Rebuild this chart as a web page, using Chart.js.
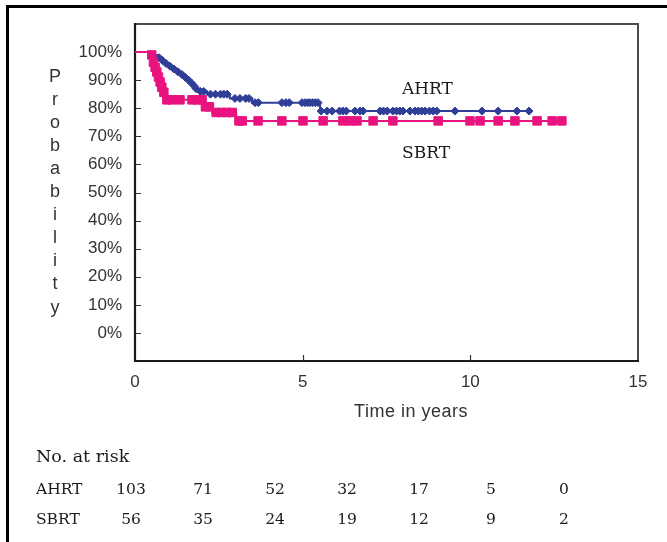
<!DOCTYPE html>
<html><head><meta charset="utf-8">
<script src="https://cdn.jsdelivr.net/npm/chart.js@4/dist/chart.umd.min.js"></script>
<style>
html,body{margin:0;padding:0;background:#fff;overflow:hidden;}
#wrap{position:relative;width:667px;height:542px;overflow:hidden;background:#fff;}
#frame{position:absolute;left:6px;top:5px;width:720px;height:620px;border:3px solid #000;box-sizing:border-box;}
#c{position:absolute;left:0;top:0;}
.t{position:absolute;white-space:nowrap;line-height:20px;}
.serif{font-family:'DejaVu Serif',serif;color:#1a1a1a;}
.sans{font-family:'Liberation Sans',Arial,sans-serif;color:#333;}
#ytitle{position:absolute;left:45px;top:64.6px;width:20px;text-align:center;font-family:'Liberation Sans',Arial,sans-serif;font-size:18px;line-height:23.1px;color:#333;}
</style></head>
<body>
<div id="wrap">
  <div id="frame"></div>
  <canvas id="c" width="667" height="542"></canvas>
  <div id="ytitle"></div>
  <div class="t sans" id="xtitle" style="left:411px;top:400.7px;font-size:18px;letter-spacing:0.5px;transform:translateX(-50%);">Time in years</div>
  <div class="t serif" id="labA" style="left:402px;top:78.3px;font-size:17px;"></div>
  <div class="t serif" id="labS" style="left:402px;top:142.3px;font-size:17px;"></div>
  <div class="t serif" style="left:36px;top:446.3px;font-size:17.5px;">No. at risk</div>
  <div id="table"></div>
</div>
<script>
// ---------- data ----------
const seriesNames = ['AHRT', 'SBRT'];
const yAxisTitle = 'Probability';
const xAxisTitle = 'Time in years';
const xTickLabels = ['0', '5', '10', '15'];
const xTickValues = [0, 5, 10, 15];
const yTickLabels = ['0%','10%','20%','30%','40%','50%','60%','70%','80%','90%','100%'];

// AHRT step curve (time in years, survival)
const ahrtTimes = [0, 0.39, 0.66, 0.78, 0.86, 0.98, 1.10, 1.22, 1.34, 1.46, 1.55, 1.64, 1.73, 1.79, 1.85, 2.15, 2.83, 3.49, 5.52, 11.75];
const ahrtSurv  = [1.00, 0.99, 0.98, 0.97, 0.96, 0.95, 0.94, 0.93, 0.92, 0.91, 0.90, 0.89, 0.88, 0.87, 0.86, 0.85, 0.835, 0.82, 0.79, 0.79];
// AHRT censor marks
const ahrtCensorTimes = [0.72, 0.82, 0.92, 1.04, 1.16, 1.28, 1.40, 1.50, 1.60, 1.68, 1.76, 1.82, 1.95, 2.05,
  2.25, 2.40, 2.55, 2.65, 2.75, 2.98, 3.13, 3.30, 3.40,
  3.58, 3.68, 4.38, 4.50, 4.60, 4.98, 5.07, 5.15, 5.22, 5.30, 5.38, 5.46,
  5.55, 5.73, 5.88, 6.10, 6.20, 6.30, 6.56, 6.71, 6.80, 7.31, 7.41, 7.52, 7.69, 7.80, 7.90, 7.99, 8.20, 8.35, 8.45, 8.55, 8.65, 8.78, 8.89, 9.00, 9.54, 10.35, 10.83, 11.39, 11.75];
const ahrtCensorSurv = [0.98, 0.97, 0.96, 0.95, 0.94, 0.93, 0.92, 0.91, 0.90, 0.89, 0.88, 0.87, 0.86, 0.86,
  0.85, 0.85, 0.85, 0.85, 0.85, 0.835, 0.835, 0.835, 0.835,
  0.82, 0.82, 0.82, 0.82, 0.82, 0.82, 0.82, 0.82, 0.82, 0.82, 0.82, 0.82,
  0.79, 0.79, 0.79, 0.79, 0.79, 0.79, 0.79, 0.79, 0.79, 0.79, 0.79, 0.79, 0.79, 0.79, 0.79, 0.79, 0.79, 0.79, 0.79, 0.79, 0.79, 0.79, 0.79, 0.79, 0.79, 0.79, 0.79, 0.79, 0.79];

// SBRT step curve
const sbrtTimes = [0, 0.50, 0.54, 0.58, 0.63, 0.68, 0.73, 0.78, 0.84, 0.90, 2.05, 2.30, 3.02, 12.73];
const sbrtSurv  = [1.00, 0.982, 0.964, 0.946, 0.929, 0.911, 0.893, 0.875, 0.857, 0.83, 0.805, 0.785, 0.755, 0.755];
// SBRT censor marks
const sbrtCensorTimes = [0.50, 0.55, 0.60, 0.65, 0.70, 0.75, 0.80, 0.86, 0.95, 1.10, 1.34, 1.70, 1.85, 2.00,
  2.10, 2.22, 2.42, 2.58, 2.74, 2.90, 3.10, 3.20, 3.67, 4.38, 5.01, 5.61, 6.20, 6.41, 6.62, 7.10, 7.69, 9.04, 9.99, 10.29, 10.83, 11.33, 11.99, 12.44, 12.73];
const sbrtCensorSurv = [0.99, 0.964, 0.946, 0.929, 0.911, 0.893, 0.875, 0.857, 0.83, 0.83, 0.83, 0.83, 0.83, 0.83,
  0.805, 0.805, 0.785, 0.785, 0.785, 0.785, 0.755, 0.755, 0.755, 0.755, 0.755, 0.755, 0.755, 0.755, 0.755, 0.755, 0.755, 0.755, 0.755, 0.755, 0.755, 0.755, 0.755, 0.755, 0.755];

// number at risk
const riskLabel = 'No. at risk';
const riskAHRT = [103, 71, 52, 32, 17, 5, 0];
const riskSBRT = [56, 35, 24, 19, 12, 9, 2];

// ---------- helpers ----------
const BLUE = '#2f3f98';
const PINK = '#e9137f';
const zip = (xs, ys) => xs.map((x, i) => ({x, y: ys[i]}));

// text overlays
document.getElementById('ytitle').innerHTML = yAxisTitle.split('').join('<br>');
document.getElementById('labA').textContent = seriesNames[0];
document.getElementById('labS').textContent = seriesNames[1];
const table = document.getElementById('table');
const colX = [131, 203, 275, 347, 419, 491, 564];
[[seriesNames[0], riskAHRT, 479.3], [seriesNames[1], riskSBRT, 509.3]].forEach(([name, vals, top]) => {
  const l = document.createElement('div');
  l.className = 't serif'; l.style.cssText = `left:36px;top:${top}px;font-size:15.5px;`;
  l.textContent = name; table.appendChild(l);
  vals.forEach((v, i) => {
    const d = document.createElement('div');
    d.className = 't serif';
    d.style.cssText = `left:${colX[i]}px;top:${top}px;font-size:15.5px;transform:translateX(-50%);`;
    d.textContent = String(v); table.appendChild(d);
  });
});

const boxPlugin = {
  id: 'box',
  beforeDatasetsDraw(c) {
    const {ctx, chartArea: a, scales: {x, y}} = c;
    ctx.save();
    ctx.strokeStyle = '#4d4d4d'; ctx.lineWidth = 2;
    ctx.strokeRect(a.left, a.top, a.right - a.left, a.bottom - a.top);
    ctx.strokeStyle = '#1a1a1a'; ctx.lineWidth = 2.2;
    ctx.beginPath();
    ctx.moveTo(a.left, a.top - 1); ctx.lineTo(a.left, a.bottom); ctx.lineTo(a.right + 1, a.bottom);
    ctx.stroke();
    ctx.lineWidth = 1.2; ctx.strokeStyle = '#333';
    ctx.beginPath();
    for (let k = 0; k <= 10; k++) {
      const py = Math.round(y.getPixelForValue(k / 10)) + 0.5;
      ctx.moveTo(a.left, py); ctx.lineTo(a.left + 6, py);
    }
    xTickValues.slice(1, -1).forEach(v => {
      const px = Math.round(x.getPixelForValue(v)) + 0.5;
      ctx.moveTo(px, a.bottom); ctx.lineTo(px, a.bottom - 6);
    });
    ctx.stroke();
    ctx.restore();
  }
};

new Chart(document.getElementById('c'), {
  type: 'line',
  data: {
    datasets: [
      { label: 'SBRT', data: zip(sbrtTimes, sbrtSurv), stepped: true, borderColor: PINK, borderWidth: 2, pointRadius: 0, fill: false, order: 0 },
      { label: 'SBRT censored', data: zip(sbrtCensorTimes, sbrtCensorSurv), showLine: false, pointStyle: 'rect', pointRadius: 6, backgroundColor: PINK, borderColor: PINK, pointBorderWidth: 1, order: 0 },
      { label: 'AHRT', data: zip(ahrtTimes, ahrtSurv), stepped: true, borderColor: BLUE, borderWidth: 2, pointRadius: 0, fill: false, order: 1 },
      { label: 'AHRT censored', data: zip(ahrtCensorTimes, ahrtCensorSurv), showLine: false, pointStyle: 'rectRot', pointRadius: 4, backgroundColor: BLUE, borderColor: BLUE, pointBorderWidth: 1, order: 1 }
    ]
  },
  options: {
    responsive: false,
    animation: false,
    layout: { padding: { top: 24, right: 29, bottom: 121, left: 0 } },
    plugins: { legend: { display: false }, tooltip: { enabled: false } },
    scales: {
      x: {
        type: 'linear', min: 0, max: 15,
        afterFit(s) { s.height = 60; },
        afterBuildTicks(s) { s.ticks = xTickValues.map(v => ({value: v})); },
        ticks: {
          callback: (v) => { const i = xTickValues.indexOf(v); return i >= 0 ? xTickLabels[i] : ''; },
          padding: 11, maxRotation: 0, autoSkip: false, color: '#333',
          font: { family: "'Liberation Sans', Arial, sans-serif", size: 17 }
        },
        grid: { display: false, drawTicks: false },
        border: { display: false }
      },
      y: {
        type: 'linear', min: -0.1, max: 1.1,
        afterFit(s) { s.width = 135; },
        ticks: {
          stepSize: 0.1,
          callback: (v) => { const k = Math.round(v * 10); return (k >= 0 && k <= 10) ? yTickLabels[k] : ''; },
          padding: 13, autoSkip: false, color: '#333',
          font: { family: "'Liberation Sans', Arial, sans-serif", size: 17 }
        },
        grid: { display: false, drawTicks: false },
        border: { display: false }
      }
    }
  },
  plugins: [boxPlugin]
});
</script>
</body></html>
